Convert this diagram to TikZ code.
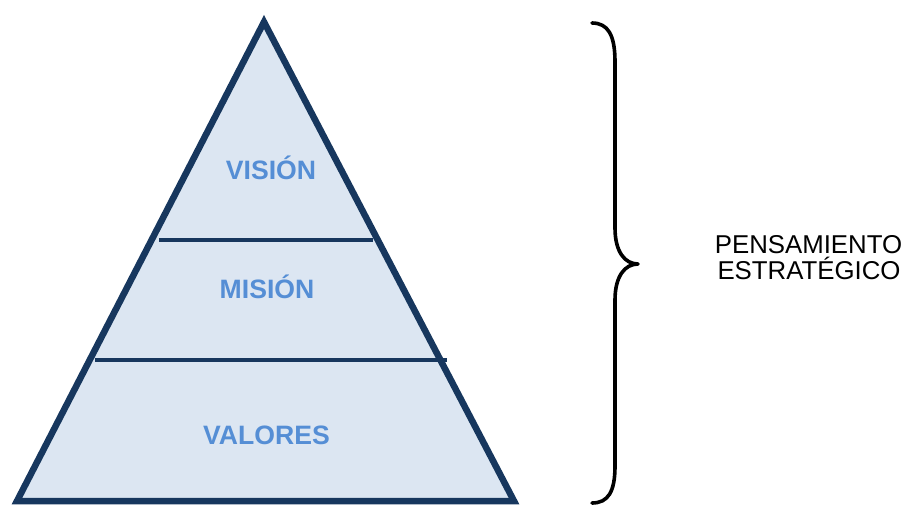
\documentclass[tikz,border=0pt]{standalone}
\usepackage{fontspec}
\setmainfont{Liberation Sans}
\definecolor{navy}{HTML}{17375E}
\definecolor{paleblue}{HTML}{DCE6F2}
\definecolor{labelblue}{HTML}{558ED5}
\begin{document}
\begin{tikzpicture}[x=1pt,y=-1pt,
  level/.style={font=\fontsize{26.6}{31}\selectfont\bfseries, text=labelblue, inner sep=0pt, anchor=base},
  side/.style={font=\fontsize{25.8}{26}\selectfont, inner sep=0pt, anchor=base},
  divider/.style={draw=navy, line width=4pt},
  brace/.style={draw=black, line width=3.6pt, line cap=round, line join=round}]
\useasboundingbox (0,0) rectangle (904,505);
% pyramid
\coordinate (apex) at (264,22);
\coordinate (bl) at (17,501);
\coordinate (br) at (514,501);
\filldraw[fill=paleblue, draw=navy, line width=6.5pt, line join=miter] (apex) -- (br) -- (bl) -- cycle;
% dividers
\coordinate (d1l) at (159,240);
\coordinate (d1r) at (373,240);
\coordinate (d2l) at (95,360);
\coordinate (d2r) at (447,360);
\draw[divider] (d1l) -- (d1r);
\draw[divider] (d2l) -- (d2r);
% labels
\node[level] (vision) at (271,179) {VISIÓN};
\node[level] (mision) at (267,298) {MISIÓN};
\node[level] (valores) at (266.5,444) {VALORES};
% brace
\coordinate (btop) at (592,23);
\coordinate (btip) at (638,264);
\coordinate (bbot) at (592,503);
\draw[brace] (btop) .. controls (608,23) and (615,35) .. (615,62)
  -- (615,228) .. controls (615,252) and (625,264) .. (btip)
  .. controls (625,264) and (615,276) .. (615,300)
  -- (615,466) .. controls (615,492) and (608,503) .. (bbot);
% side text
\node[side] (pensamiento) at (808.5,253) {PENSAMIENTO};
\node[side] (estrategico) at (809,279) {ESTRATÉGICO};
\end{tikzpicture}
\end{document}
